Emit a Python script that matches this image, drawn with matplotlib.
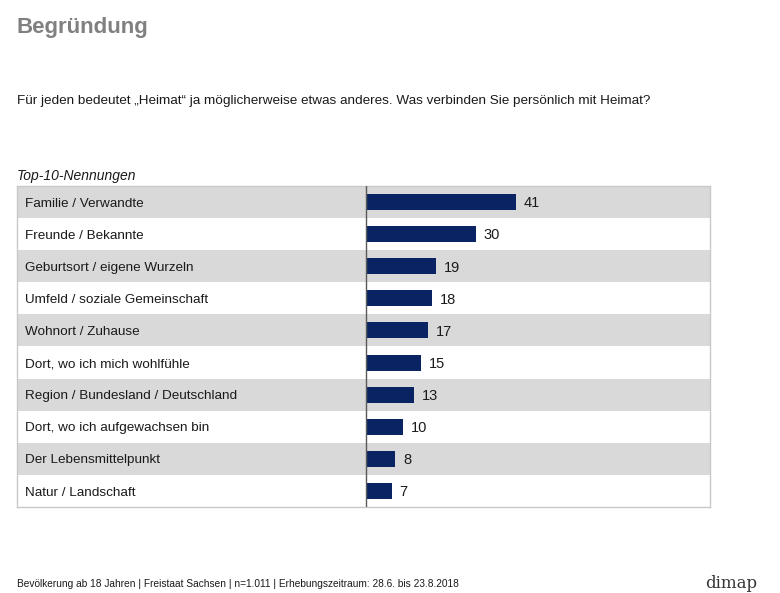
import numpy as np
import matplotlib.pyplot as plt
import matplotlib.transforms as mtransforms

# data
categories = [
    "Familie / Verwandte",
    "Freunde / Bekannte",
    "Geburtsort / eigene Wurzeln",
    "Umfeld / soziale Gemeinschaft",
    "Wohnort / Zuhause",
    "Dort, wo ich mich wohlfühle",
    "Region / Bundesland / Deutschland",
    "Dort, wo ich aufgewachsen bin",
    "Der Lebensmittelpunkt",
    "Natur / Landschaft",
]
values = [41, 30, 19, 18, 17, 15, 13, 10, 8, 7]

title = "Begründung"
question = "Für jeden bedeutet „Heimat“ ja möglicherweise etwas anderes. Was verbinden Sie persönlich mit Heimat?"
subtitle = "Top-10-Nennungen"
footer = "Bevölkerung ab 18 Jahren | Freistaat Sachsen | n=1.011 | Erhebungszeitraum: 28.6. bis 23.8.2018"

W, H = 780, 593
fig = plt.figure(figsize=(W / 100, H / 100), dpi=100)
plt.rcParams['font.family'] = ['Liberation Sans', 'DejaVu Sans']

# table area in pixels
tab_left, tab_right, tab_top, tab_bottom = 17, 710, 186, 507
zero_px = 366
px_per_unit = (516 - zero_px) / 41.0

ax = fig.add_axes([tab_left / W, 1 - tab_bottom / H,
                   (tab_right - tab_left) / W, (tab_bottom - tab_top) / H])
xmin = -(zero_px - tab_left) / px_per_unit
xmax = (tab_right - zero_px) / px_per_unit
ax.set_xlim(xmin, xmax)
n = len(categories)
ax.set_ylim(n - 0.5, -0.5)

y = np.arange(n)
for i in y:
    if i % 2 == 0:
        ax.axhspan(i - 0.5, i + 0.5, color="#d9d9d9", zorder=0, lw=0)

ax.barh(y, values, height=0.5, color="#0a2463", zorder=2)
ax.axvline(0, color="#595959", lw=1, zorder=3)

lbl_trans = mtransforms.blended_transform_factory(ax.transAxes, ax.transData)
for i, (cat, v) in enumerate(zip(categories, values)):
    ax.text(0.011, i + 0.05, cat, transform=lbl_trans, va="center", ha="left",
            fontsize=9.7, color="#1a1a1a")
    ax.text(v + 2.2, i + 0.04, str(v), va="center", ha="left",
            fontsize=10.5, color="#1a1a1a")

ax.set_xticks([])
ax.set_yticks([])
for s in ax.spines.values():
    s.set_color("#c8c8c8")
    s.set_linewidth(1)

fig.text(17 / W, 1 - 28 / H, title, fontsize=16, fontweight="bold",
         color="#808080", va="center", ha="left")
fig.text(17 / W, 1 - 101 / H, question, fontsize=9.7, color="#1a1a1a",
         va="center", ha="left")
fig.text(17 / W, 1 - 176 / H, subtitle, fontsize=10, style="italic",
         color="#1a1a1a", va="center", ha="left")
fig.text(17 / W, 1 - 584 / H, footer, fontsize=7.3, color="#1a1a1a",
         va="center", ha="left")
fig.text(757 / W, 1 - 583 / H, "dimap", fontsize=12, family="DejaVu Serif",
         color="#333333", va="center", ha="right")

fig.savefig("out.png", dpi=100)
